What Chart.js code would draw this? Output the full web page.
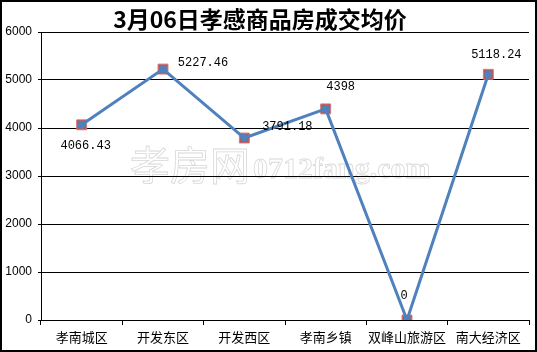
<!DOCTYPE html>
<html>
<head>
<meta charset="utf-8">
<script src="https://cdn.jsdelivr.net/npm/chart.js@4"></script>
<style>
  body { margin: 0; background: #fff; }
</style>
</head>
<body>
<canvas id="priceChart" width="537" height="352"></canvas>
<script>
// 数据
const districts = ['孝南城区', '开发东区', '开发西区', '孝南乡镇', '双峰山旅游区', '南大经济区'];
const avgPrice = [4066.43, 5227.46, 3791.18, 4398, 0, 5118.24];
const yTicks = [0, 1000, 2000, 3000, 4000, 5000, 6000];

// 数据标签相对于点的偏移 (px)
const labelOffset = [[4, 21], [40, -6], [43, -11], [15, -22], [-3, -24], [8, -19]];

const chartTitle = '3月06日孝感商品房成交均价';

/* ▼ 标题、水印、外框、数据标签 */
const decor = {
  id: 'decor',
  beforeDraw(chart) {
    const c = chart.ctx;
    c.save();
    // 水印（空心字）
    c.strokeStyle = '#d8d8d8';
    c.lineWidth = 0.8;
    c.textBaseline = 'alphabetic';
    c.textAlign = 'left';
    c.font = '40px "Noto Sans CJK SC"';
    c.strokeText('孝房网', 130, 180);
    c.font = 'bold 30px "Liberation Serif"';
    c.strokeText('0712fang.com', 253, 178);
    c.restore();
  },
  afterDatasetsDraw(chart) {
    const c = chart.ctx;
    const pts = chart.getDatasetMeta(0).data;
    c.save();
    c.fillStyle = '#000';
    c.font = '12px "Liberation Mono"';
    c.textAlign = 'center';
    c.textBaseline = 'middle';
    pts.forEach((p, i) => {
      c.fillText(String(avgPrice[i]), p.x + labelOffset[i][0], p.y + labelOffset[i][1]);
    });
    c.restore();
  },
  afterDraw(chart) {
    const c = chart.ctx;
    c.save();
    // 标题
    c.fillStyle = '#000';
    c.font = 'bold 23px "Noto Sans CJK SC"';
    c.textAlign = 'center';
    c.textBaseline = 'middle';
    c.fillText(chartTitle, 260, 19);
    // 外框
    c.strokeStyle = '#000';
    c.lineWidth = 2;
    c.strokeRect(1, 1, 535, 350);
    c.restore();
  }
};

const ctx = document.getElementById('priceChart');

new Chart(ctx, {
  type: 'line',
  data: {
    labels: districts,
    datasets: [
      {
        label: '均价',
        data: avgPrice,
        borderColor: '#4f81bd',
        borderWidth: 3,
        tension: 0,
        pointStyle: 'circle',
        pointRadius: 4,
        pointBackgroundColor: '#4f81bd',
        pointBorderWidth: 0,
        order: 1
      },
      {
        label: 'marker',
        data: avgPrice,
        showLine: false,
        pointStyle: 'rect',
        pointRadius: 7,
        pointBackgroundColor: '#c0504d',
        pointBorderColor: '#d07a78',
        pointBorderWidth: 1,
        order: 2
      }
    ]
  },
  options: {
    responsive: false,
    animation: false,
    layout: { padding: { left: 0, right: 3, top: 32, bottom: 0 } },
    plugins: {
      legend: { display: false },
      title: { display: false },
      tooltip: { enabled: false }
    },
    scales: {
      x: {
        offset: true,
        afterFit(scale) { scale.height = 32; },
        grid: {
          offset: true,
          drawOnChartArea: false,
          drawTicks: true,
          tickLength: 5,
          color: '#000'
        },
        border: { color: '#000', width: 1 },
        ticks: {
          color: '#000',
          padding: 4,
          maxRotation: 0,
          autoSkip: false,
          font: { size: 13, family: '"Noto Sans CJK SC"' }
        }
      },
      y: {
        min: yTicks[0],
        max: yTicks[yTicks.length - 1],
        afterFit(scale) { scale.width = 41; },
        afterBuildTicks(scale) { scale.ticks = yTicks.map(v => ({ value: v })); },
        grid: {
          color: '#000',
          tickLength: 3
        },
        border: { color: '#000', width: 1 },
        ticks: {
          color: '#000',
          padding: 6,
          callback: v => String(v),
          font: { size: 12, family: '"Liberation Sans"' }
        }
      }
    }
  },
  plugins: [decor]
});
</script>
</body>
</html>
